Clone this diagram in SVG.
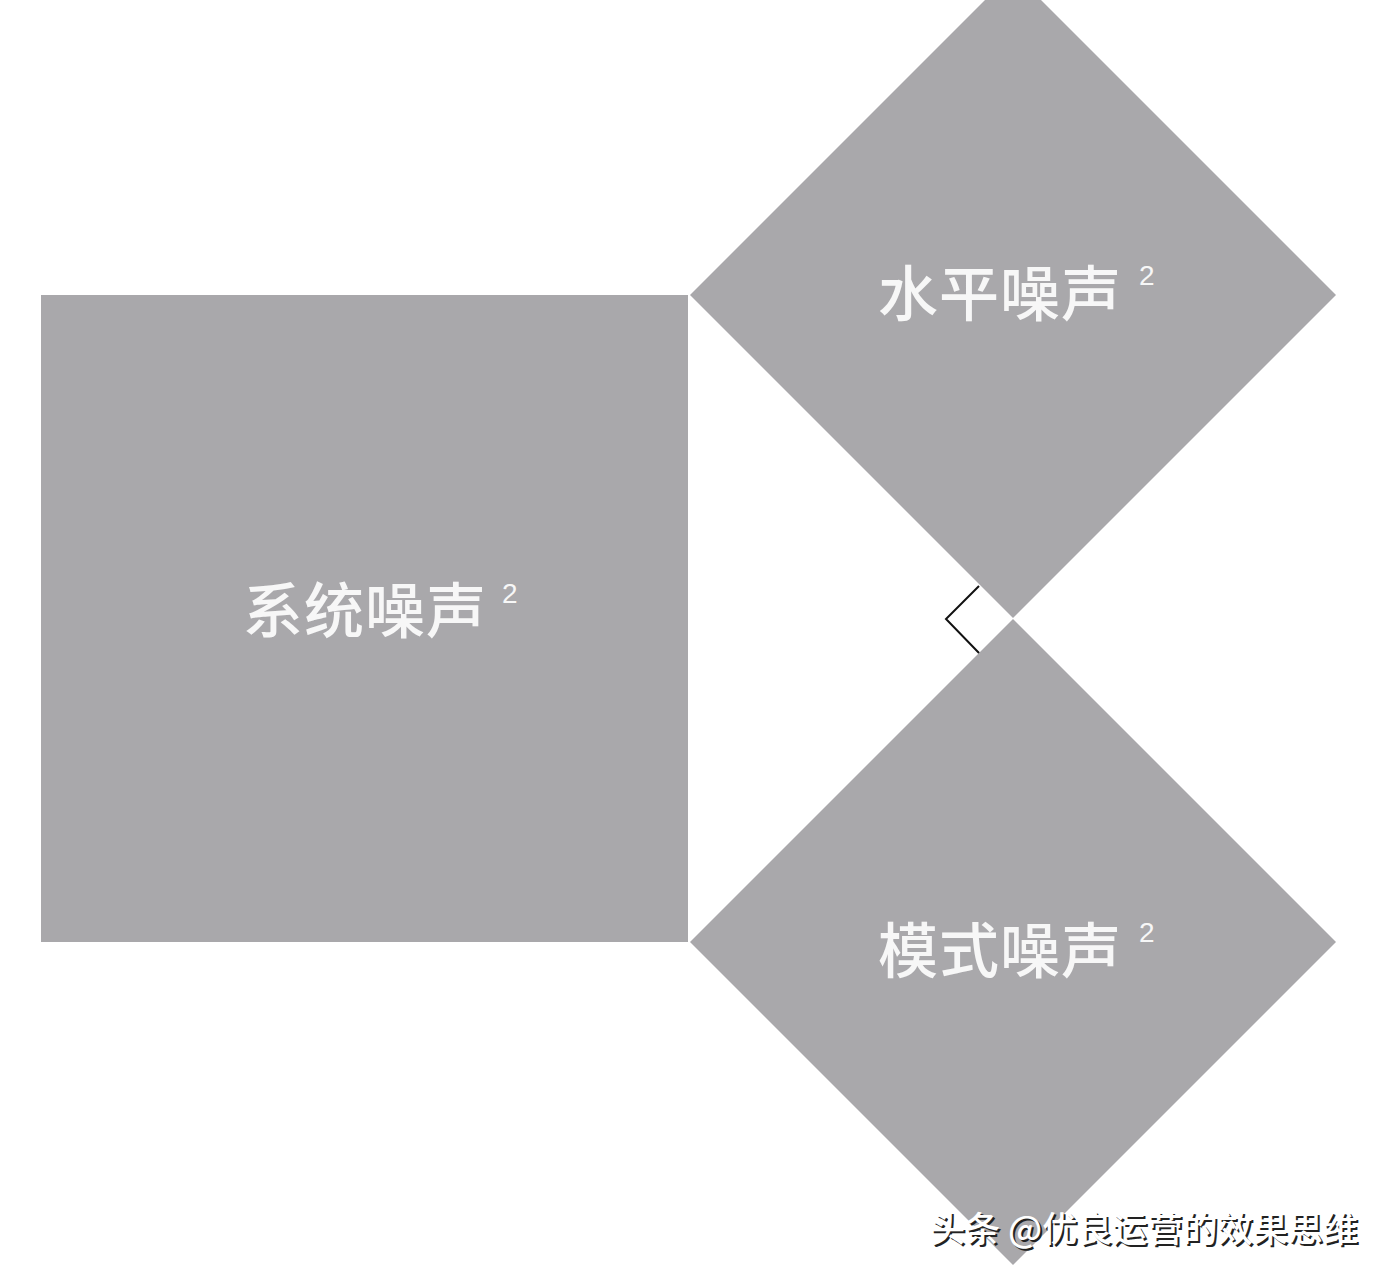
<svg xmlns="http://www.w3.org/2000/svg" width="1392" height="1276" viewBox="0 0 1392 1276">
<style>
.shape{fill:#a9a8ab;}
.lbl{font-family:"Noto Sans CJK SC","Noto Sans",sans-serif;fill:#f7f7f7;font-size:60px;font-weight:500;letter-spacing:1px;}
.sup{font-family:"Liberation Sans","Noto Sans",sans-serif;fill:#f7f7f7;font-size:28px;}
.wm{font-family:"Noto Sans CJK SC","Noto Sans",sans-serif;font-size:35px;font-weight:500;}
</style>
<rect x="0" y="0" width="1392" height="1276" fill="#ffffff"/>
<g id="square-system">
<rect class="shape" x="41" y="295" width="647" height="647"/>
<text class="lbl" x="243" y="633">系统噪声</text>
<text class="sup" x="502" y="603">2</text>
</g>
<g id="diamond-horizontal">
<polygon class="shape" points="690,295 1013,-28 1336,295 1013,618"/>
<text class="lbl" x="878" y="316">水平噪声</text>
<text class="sup" x="1139" y="285">2</text>
</g>
<g id="diamond-pattern">
<polygon class="shape" points="690,942 1013,619 1336,942 1013,1265"/>
<text class="lbl" x="878" y="973">模式噪声</text>
<text class="sup" x="1139" y="942">2</text>
</g>
<g id="connectors">
<polyline points="979,586 946,619 979,653" fill="none" stroke="#111111" stroke-width="2"/>
</g>
<g id="watermark">
<text class="wm" x="932" y="1244" fill="#222222" textLength="428" lengthAdjust="spacingAndGlyphs">头条 @优良运营的效果思维</text>
<text class="wm" x="930" y="1242" fill="#ffffff" textLength="428" lengthAdjust="spacingAndGlyphs">头条 @优良运营的效果思维</text>
</g>
</svg>
